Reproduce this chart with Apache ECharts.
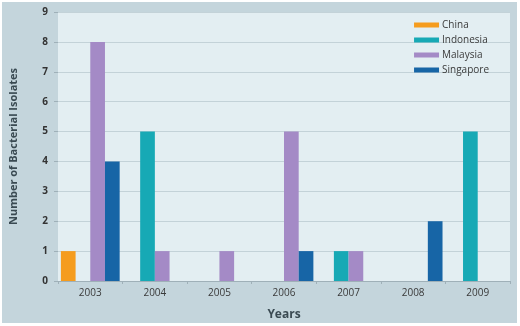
<!DOCTYPE html>
<html>
<head>
<meta charset="utf-8">
<script src="https://cdn.jsdelivr.net/npm/echarts@6/dist/echarts.min.js"></script>
<style>
html,body{margin:0;padding:0;background:#ffffff;}
#c{width:520px;height:326px;}
</style>
</head>
<body>
<div id="c"></div>
<script>
const years = ['2003','2004','2005','2006','2007','2008','2009'];
const china = [1, 0, 0, 0, 0, 0, 0];
const indonesia = [0, 5, 0, 0, 1, 0, 5];
const malaysia = [8, 1, 1, 5, 1, 0, 0];
const singapore = [4, 0, 0, 1, 0, 2, 0];
const yTicks = [0,1,2,3,4,5,6,7,8,9];

const chart = echarts.init(document.getElementById('c'), null, {renderer:'canvas'});
const font = '"Open Sans", "Noto Sans", sans-serif';
function s(name, data, color){
  return {name, type:'bar', data, barGap:'0%', barCategoryGap:'9%',
    itemStyle:{color}, emphasis:{disabled:true}};
}
chart.setOption({
  animation:false,
  textStyle:{fontFamily:font},
  graphic:[{type:'rect', z:-10, silent:true,
    shape:{x:2,y:2,width:515,height:321},
    style:{fill:'#c4d5dc'}}],
  grid:{left:53, right:10, top:12, bottom:40, show:true,
    backgroundColor:'#e3eef2', borderWidth:0},
  legend:{
    orient:'vertical', right:26, top:15,
    itemWidth:25, itemHeight:5, itemGap:5,
    icon:'rect',
    textStyle:{fontSize:10, color:'#3a3a3a', fontFamily:font, padding:[0,0,0,-2]},
    data:['China','Indonesia','Malaysia','Singapore']
  },
  xAxis:{
    type:'category', data:years,
    name:'Years', nameLocation:'middle', nameGap:28,
    nameTextStyle:{fontSize:12, fontWeight:'bold', color:'#3a4a52'},
    axisLine:{lineStyle:{color:'#9fb0b8'}},
    axisTick:{show:true, length:3, lineStyle:{color:'#9fb0b8'}},
    axisLabel:{fontSize:10, color:'#3a3a3a', margin:7}
  },
  yAxis:{
    type:'value', min:yTicks[0], max:yTicks[yTicks.length-1], interval:1,
    name:'Number of Bacterial Isolates', nameLocation:'middle', nameGap:39,
    nameTextStyle:{fontSize:11, fontWeight:'bold', color:'#3a4a52'},
    axisLine:{show:false},
    axisTick:{show:true, length:4, lineStyle:{color:'#9fb0b8'}},
    axisLabel:{fontSize:10, color:'#333', margin:10, fontWeight:'bold'},
    splitLine:{lineStyle:{color:'#c3d2d8', width:1}}
  },
  series:[
    s('China', china, '#f59c1e'),
    s('Indonesia', indonesia, '#17a9b5'),
    s('Malaysia', malaysia, '#a48ac6'),
    s('Singapore', singapore, '#1765a6')
  ]
});
</script>
</body>
</html>
